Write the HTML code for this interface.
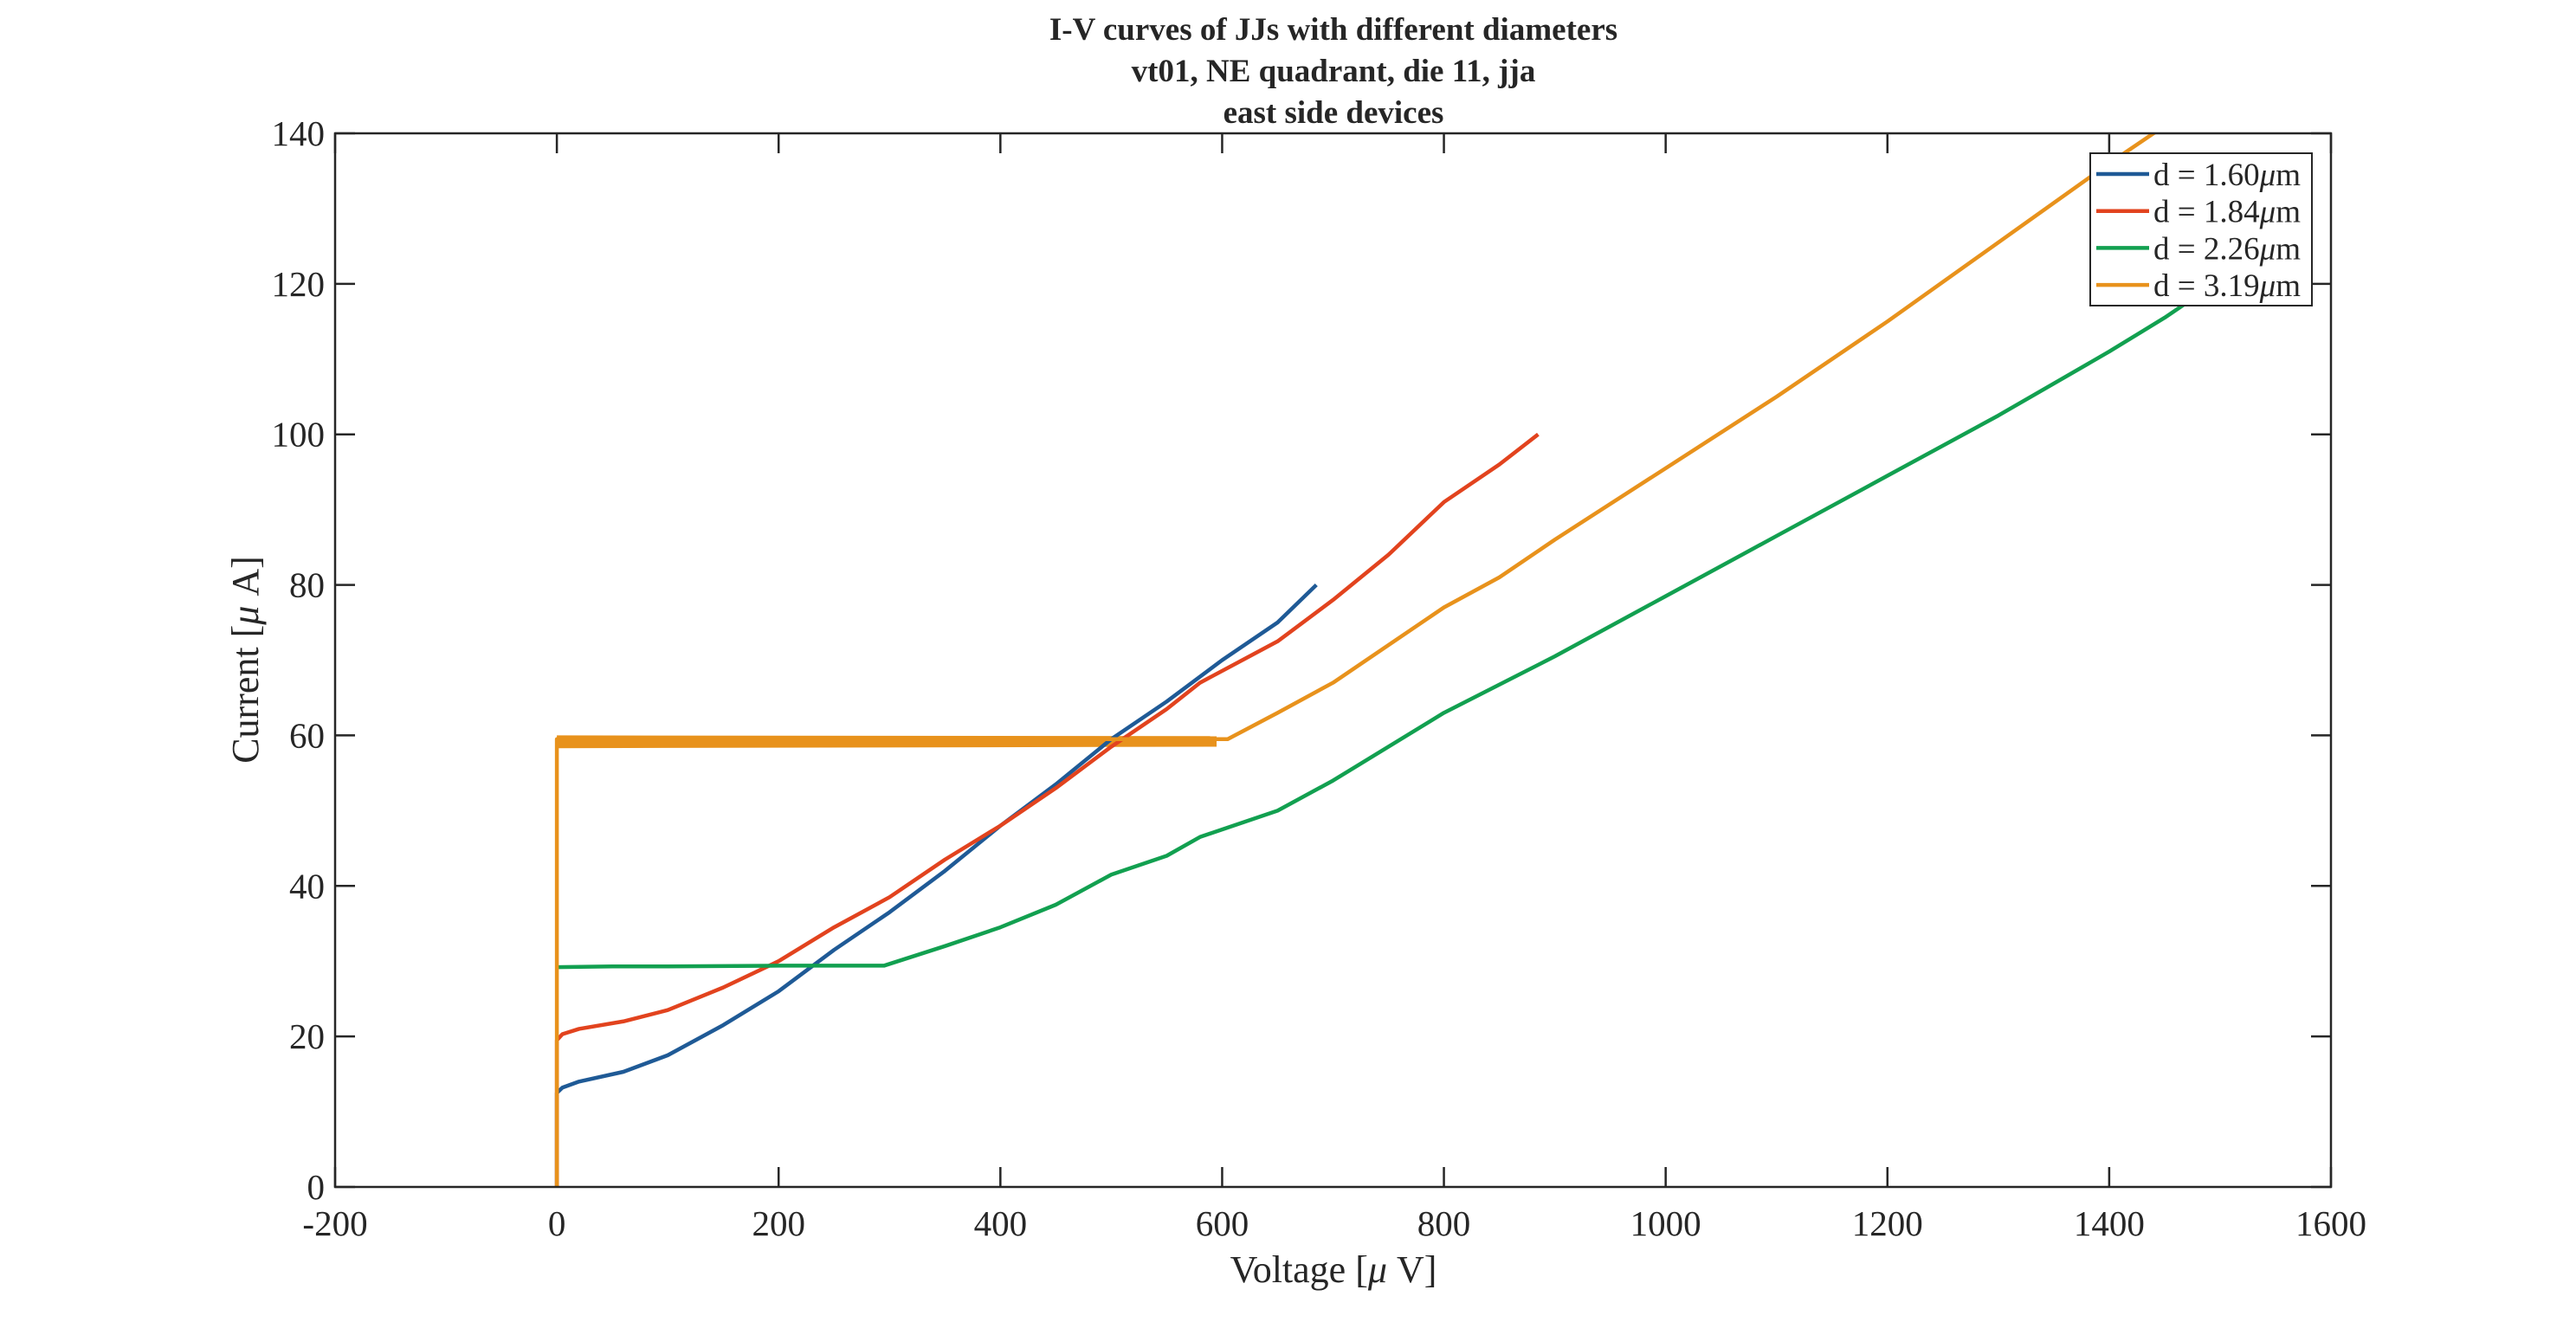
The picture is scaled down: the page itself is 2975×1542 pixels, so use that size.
<!DOCTYPE html>
<html><head><meta charset="utf-8"><style>
body{margin:0;background:#fff}
svg{display:block}
text{font-family:"Liberation Serif",serif;fill:#262626}
</style></head><body>
<svg id="chart" width="2975" height="1542" viewBox="0 0 2975 1542">
<g>
<text x="1540" y="46" font-size="37" font-weight="bold" text-anchor="middle" fill="#000">I-V curves of JJs with different diameters</text>
<text x="1540" y="94" font-size="37" font-weight="bold" text-anchor="middle" fill="#000">vt01, NE quadrant, die 11, jja</text>
<text x="1540" y="142" font-size="37" font-weight="bold" text-anchor="middle" fill="#000">east side devices</text>
</g>
<defs><clipPath id="plotclip"><rect x="387" y="154" width="2305" height="1217"/></clipPath></defs>
<g id="ticks"></g>
<g id="series" clip-path="url(#plotclip)"></g>
<rect x="387" y="154" width="2305" height="1217" fill="none" stroke="#262626" stroke-width="2.5"/>
<text x="1540" y="1481" font-size="44" text-anchor="middle">Voltage [<tspan font-style="italic">μ</tspan> V]</text>
<text x="0" y="0" font-size="44" text-anchor="middle" transform="translate(298,762) rotate(-90)">Current [<tspan font-style="italic">μ</tspan> A]</text>
<g id="legend"></g>
</svg>
<script>
const xTicks=[-200,0,200,400,600,800,1000,1200,1400,1600];
const yTicks=[0,20,40,60,80,100,120,140];
const names=["d = 1.60","d = 1.84","d = 2.26","d = 3.19"];
const colors=["#1f5a96","#e2431e","#12a050","#e8921c"];
const blueV=[0,0,5,20,60,100,150,200,250,300,350,400,450,500,550,600,650,685];
const blueI=[0,12.5,13.2,14,15.3,17.5,21.5,26,31.5,36.5,42,48,53.5,59.5,64.5,70,75,80];
const redV=[0,0,5,20,60,100,150,200,250,300,350,400,450,500,550,580,650,700,750,800,850,885];
const redI=[0,19.5,20.3,21,22,23.5,26.5,30,34.5,38.5,43.5,48,53,58.5,63.5,67,72.5,78,84,91,96,100];
const greenV=[0,50,100,200,295,350,400,450,500,550,580,650,700,800,900,1000,1100,1200,1300,1400,1450,1500,1530];
const greenI=[29.2,29.3,29.3,29.4,29.4,32,34.5,37.5,41.5,44,46.5,50,54,63,70.5,78.5,86.5,94.5,102.5,111,115.5,120.5,124];
const orangeV=[0,0,0,605,650,700,800,850,900,1000,1100,1200,1300,1400,1450];
const orangeI=[0,59,59.5,59.5,63,67,77,81,86,95.5,105,115,125.5,136,141];
const bandV=[0,595];
const bandLow=[58.3,58.5];
const bandHigh=[60,59.9];
const X0=387,X1=2692,Y0=1371,Y1=154;
const xs=v=>X0+(v+200)/1800*(X1-X0);
const ys=v=>Y0-v/140*(Y0-Y1);
const NS="http://www.w3.org/2000/svg";
const mk=(t,a,p)=>{const e=document.createElementNS(NS,t);for(const k in a)e.setAttribute(k,a[k]);p.appendChild(e);return e;};
const tg=document.getElementById('ticks');
xTicks.forEach(v=>{
 const l=mk('path',{d:`M${xs(v)},${Y0}v-23M${xs(v)},${Y1}v23`,stroke:'#262626','stroke-width':2.5},tg);
 
 
 const t=mk('text',{x:xs(v),y:Y0+56,'font-size':41,'text-anchor':'middle'},tg);t.textContent=v;
 
 
});
yTicks.forEach(v=>{
 const l=mk('path',{d:`M${X0},${ys(v)}h23M${X1},${ys(v)}h-23`,stroke:'#262626','stroke-width':2.5},tg);
 
 
 const t=mk('text',{x:X0-12,y:ys(v)+14,'font-size':41,'text-anchor':'end'},tg);t.textContent=v;
 
 
});
const sg=document.getElementById('series');
const band=mk('polygon',{points:`${xs(bandV[0])},${ys(bandHigh[0])} ${xs(bandV[1])},${ys(bandHigh[1])} ${xs(bandV[1])},${ys(bandLow[1])} ${xs(bandV[0])},${ys(bandLow[0])}`,fill:colors[3]},sg);


const series=[[blueV,blueI],[redV,redI],[greenV,greenI],[orangeV,orangeI]];
const sn=['series-d160','series-d184','series-d226','series-d319'];
series.forEach((s,i)=>{
 const p=mk('polyline',{points:s[0].map((v,j)=>xs(v)+','+ys(s[1][j])).join(' '),fill:'none',stroke:colors[i],'stroke-width':4.5,'stroke-linejoin':'round'},sg);
 
 
});
const lg=document.getElementById('legend');
mk('rect',{x:2414,y:177,width:256,height:176,fill:'#fff',stroke:'#262626','stroke-width':2},lg);
names.forEach((n,i)=>{
 const y=201+i*42.7;
 const l=mk('line',{x1:2421,x2:2482,y1:y,y2:y,stroke:colors[i],'stroke-width':4.5},lg);
 
 
 const t=mk('text',{x:2487,y:y+13,'font-size':37,fill:'#000'},lg);
 t.textContent=n;
 const ts=mk('tspan',{'font-style':'italic'},t);ts.textContent='μ';
 t.appendChild(document.createTextNode('m'));
 
 
});
</script>
</body></html>
